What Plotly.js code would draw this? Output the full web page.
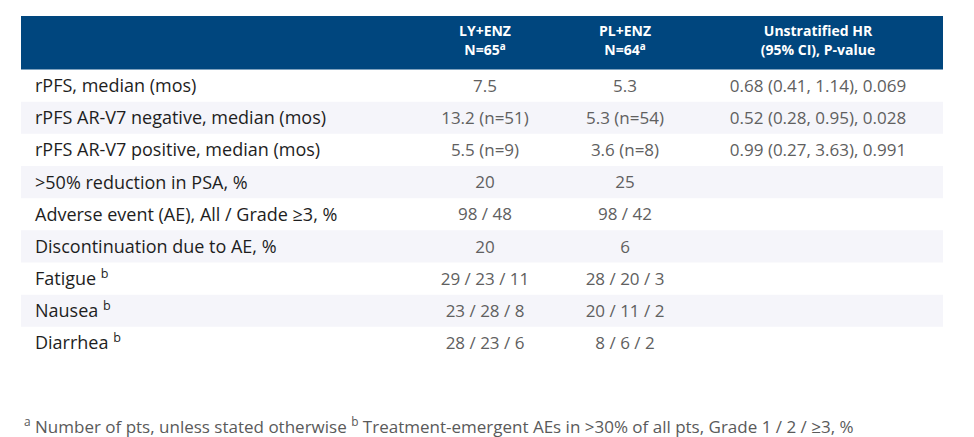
<!DOCTYPE html>
<html>
<head>
<meta charset="utf-8">
<script src="https://cdn.plot.ly/plotly-3.0.1.min.js"></script>
<style>
  html, body { margin: 0; padding: 0; background: #fff; }
  #chart { width: 974px; height: 437px; }
</style>
</head>
<body>
<div id="chart"></div>
<script>
// Column headers (two lines each)
const headTop = ['LY+ENZ', 'PL+ENZ', 'Unstratified HR'];
const headBottom = ['N=65<sup>a</sup>', 'N=64<sup>a</sup>', '(95% CI), P-value'];

// Row labels
const outcomes = [
  'rPFS, median (mos)',
  'rPFS AR-V7 negative, median (mos)',
  'rPFS AR-V7 positive, median (mos)',
  '>50% reduction in PSA, %',
  'Adverse event (AE), All / Grade ≥3, %',
  'Discontinuation due to AE, %',
  'Fatigue <sup>b</sup>',
  'Nausea <sup>b</sup>',
  'Diarrhea <sup>b</sup>'
];

// Values per arm
const lyEnz = ['7.5', '13.2 (n=51)', '5.5 (n=9)', '20', '98 / 48', '20', '29 / 23 / 11', '23 / 28 / 8', '28 / 23 / 6'];
const plEnz = ['5.3', '5.3 (n=54)', '3.6 (n=8)', '25', '98 / 42', '6', '28 / 20 / 3', '20 / 11 / 2', '8 / 6 / 2'];
const hazard = ['0.68 (0.41, 1.14), 0.069', '0.52 (0.28, 0.95), 0.028', '0.99 (0.27, 3.63), 0.991', '', '', '', '', '', ''];

const footnote = '<sup>a</sup> Number of pts, unless stated otherwise <sup>b</sup> Treatment-emergent AEs in >30% of all pts, Grade 1 / 2 / ≥3, %';

// layout constants (page pixels)
const W = 974, H = 437;
const tblLeft = 21, tblRight = 943, tblTop = 16, headBot = 69.5, rowH = 32.2;
const colX = [485, 625, 818];
const labelX = 35;
const textShift = 2;
const navy = '#00467e';
const fontFam = 'Open Sans, sans-serif';

const rowY = outcomes.map((_, i) => headBot + rowH * (i + 0.5));
const textY = rowY.map(y => y + textShift);
const tblBottom = headBot + rowH * outcomes.length;

// striped background rows
const stripeY = rowY.filter((_, i) => i % 2 === 1);
const stripes = {
  type: 'bar',
  orientation: 'h',
  y: stripeY,
  x: stripeY.map(() => tblRight - tblLeft),
  base: tblLeft,
  width: rowH,
  marker: { color: '#f5f5fa', line: { width: 0 } },
  hoverinfo: 'skip'
};

const labels = {
  type: 'scatter',
  mode: 'text',
  x: outcomes.map(() => labelX),
  y: textY,
  text: outcomes,
  textposition: 'middle right',
  textfont: { family: fontFam, size: 18, color: '#1e1e1e' },
  cliponaxis: false,
  hoverinfo: 'skip'
};

const valueTrace = (vals, x) => ({
  type: 'scatter',
  mode: 'text',
  x: vals.map(() => x),
  y: textY,
  text: vals,
  textposition: 'middle center',
  textfont: { family: fontFam, size: 17, color: '#606060' },
  cliponaxis: false,
  hoverinfo: 'skip'
});

const headerTrace = (vals, y) => ({
  type: 'scatter',
  mode: 'text',
  x: colX,
  y: vals.map(() => y),
  text: vals.map(v => '<b>' + v + '</b>'),
  textposition: 'middle center',
  textfont: { family: fontFam, size: 14, color: '#ffffff' },
  cliponaxis: false,
  hoverinfo: 'skip'
});

const traces = [
  stripes,
  labels,
  valueTrace(lyEnz, colX[0]),
  valueTrace(plEnz, colX[1]),
  valueTrace(hazard, colX[2]),
  headerTrace(headTop, 33),
  headerTrace(headBottom, 52)
];

const layout = {
  width: W,
  height: H,
  margin: { l: tblLeft, r: W - tblRight, t: tblTop, b: H - tblBottom },
  paper_bgcolor: '#ffffff',
  plot_bgcolor: '#ffffff',
  showlegend: false,
  xaxis: { range: [tblLeft, tblRight], visible: false, fixedrange: true },
  yaxis: { range: [tblBottom, tblTop], visible: false, fixedrange: true },
  shapes: [{
    type: 'rect', xref: 'x', yref: 'y', layer: 'below',
    x0: tblLeft, x1: tblRight, y0: tblTop, y1: headBot,
    fillcolor: navy, line: { width: 0 }
  }],
  annotations: [{
    xref: 'paper', yref: 'paper',
    x: (22 - tblLeft) / (tblRight - tblLeft),
    y: (tblBottom - 426) / (tblBottom - tblTop),
    xanchor: 'left', yanchor: 'middle',
    showarrow: false,
    text: footnote,
    font: { family: fontFam, size: 17, color: '#5a5a5a' }
  }]
};

Plotly.newPlot('chart', traces, layout, { displayModeBar: false, staticPlot: true });
</script>
</body>
</html>
